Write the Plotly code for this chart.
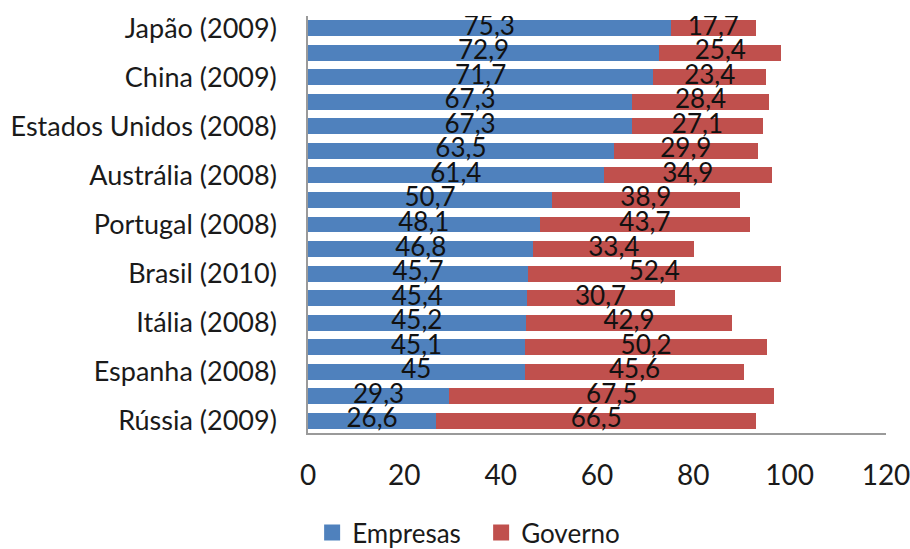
import plotly.graph_objects as go

paises = ["Japão (2009)", "", "China (2009)", "", "Estados Unidos (2008)", "",
          "Austrália (2008)", "", "Portugal (2008)", "", "Brasil (2010)", "",
          "Itália (2008)", "", "Espanha (2008)", "", "Rússia (2009)"]
empresas = [75.3, 72.9, 71.7, 67.3, 67.3, 63.5, 61.4, 50.7, 48.1, 46.8, 45.7, 45.4, 45.2, 45.1, 45, 29.3, 26.6]
governo = [17.7, 25.4, 23.4, 28.4, 27.1, 29.9, 34.9, 38.9, 43.7, 33.4, 52.4, 30.7, 42.9, 50.2, 45.6, 67.5, 66.5]
x_ticks = [0, 20, 40, 60, 80, 100, 120]

idx = list(range(len(paises)))
fmt = lambda v: (f"{v:g}").replace(".", ",")

font = "Lato, Open Sans, sans-serif"
blue = "#4F81BD"
red = "#C0504D"

fig = go.Figure()
fig.add_trace(go.Bar(y=idx, x=empresas, orientation="h", name="Empresas",
                     marker=dict(color=blue, line=dict(width=0)), showlegend=False))
fig.add_trace(go.Bar(y=idx, x=governo, orientation="h", name="Governo",
                     marker=dict(color=red, line=dict(width=0)), showlegend=False))

# legend entries with square symbols
fig.add_trace(go.Scatter(x=[None], y=[None], mode="markers", name="Empresas",
                         marker=dict(symbol="square", size=16, color=blue)))
fig.add_trace(go.Scatter(x=[None], y=[None], mode="markers", name="Governo",
                         marker=dict(symbol="square", size=16, color=red)))

# data labels centred in each segment
fig.add_trace(go.Scatter(y=idx, x=[e / 2 for e in empresas], mode="text",
                         text=[fmt(v) for v in empresas], textposition="middle center",
                         textfont=dict(family=font, size=26, color="#111"),
                         showlegend=False, hoverinfo="skip"))
fig.add_trace(go.Scatter(y=idx, x=[e + g / 2 for e, g in zip(empresas, governo)], mode="text",
                         text=[fmt(v) for v in governo], textposition="middle center",
                         textfont=dict(family=font, size=26, color="#111"),
                         showlegend=False, hoverinfo="skip"))

fig.update_layout(
    barmode="stack", bargap=0.35,
    width=910, height=549,
    margin=dict(l=308, r=24, t=16, b=116, autoexpand=False),
    paper_bgcolor="white", plot_bgcolor="white",
    font=dict(family=font, size=20, color="#1a1a1a"),
    legend=dict(orientation="h", xref="container", yref="container",
                x=0.343, xanchor="left", y=0.03, yanchor="middle",
                font=dict(size=26), traceorder="normal", itemwidth=30,
                entrywidth=124, entrywidthmode="pixels"),
)
fig.update_xaxes(range=[0, 120], tickvals=x_ticks, ticktext=[str(t) for t in x_ticks],
                 showgrid=False, zeroline=False, showline=True, linecolor="#9a9a9a",
                 linewidth=1.5, ticks="", ticklabelstandoff=17, automargin=False,
                 ticklabeloverflow="allow",
                 tickfont=dict(size=28, color="#1a1a1a"))
fig.update_yaxes(range=[16.5, -0.5], tickvals=idx[::2], ticktext=paises[::2],
                 showgrid=False, zeroline=False, showline=True, linecolor="#9a9a9a",
                 linewidth=1.5, ticks="", ticklabelstandoff=24, automargin=False,
                 tickfont=dict(size=27, color="#1a1a1a"))

fig.write_html("out.html")
